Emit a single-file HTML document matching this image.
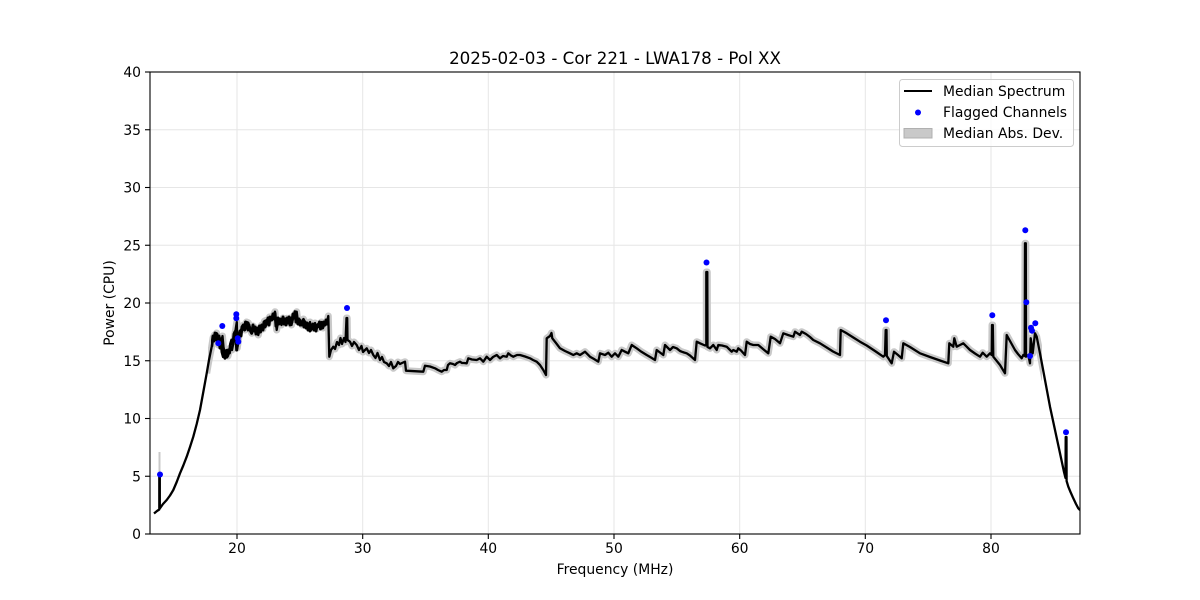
<!DOCTYPE html>
<html><head><meta charset="utf-8"><style>
html,body{margin:0;padding:0;background:#fff;}
svg{display:block;}
text{font-family:"DejaVu Sans","Liberation Sans",sans-serif;fill:#000;}
</style></head><body>
<svg width="1200" height="600" viewBox="0 0 1200 600" xmlns="http://www.w3.org/2000/svg">
<rect width="1200" height="600" fill="#fff"/>
<defs>
<clipPath id="ax"><rect x="150" y="72" width="930" height="462"/></clipPath>
<clipPath id="mid"><rect x="208" y="72" width="834" height="462"/></clipPath>
<clipPath id="noisy"><rect x="211" y="72" width="118" height="462"/></clipPath>
</defs>
<!-- grid -->
<g stroke="#e6e6e6" stroke-width="1">
<line x1="237" y1="72" x2="237" y2="534"/><line x1="362.7" y1="72" x2="362.7" y2="534"/><line x1="488.3" y1="72" x2="488.3" y2="534"/><line x1="614" y1="72" x2="614" y2="534"/><line x1="739.7" y1="72" x2="739.7" y2="534"/><line x1="865.3" y1="72" x2="865.3" y2="534"/><line x1="991" y1="72" x2="991" y2="534"/>
<line x1="150" y1="476.25" x2="1080" y2="476.25"/><line x1="150" y1="418.5" x2="1080" y2="418.5"/><line x1="150" y1="360.75" x2="1080" y2="360.75"/><line x1="150" y1="303" x2="1080" y2="303"/><line x1="150" y1="245.25" x2="1080" y2="245.25"/><line x1="150" y1="187.5" x2="1080" y2="187.5"/><line x1="150" y1="129.75" x2="1080" y2="129.75"/>
</g>
<g clip-path="url(#ax)">
<line x1="159.5" y1="510" x2="159.5" y2="452" stroke="#c8c8c8" stroke-width="2"/>
<g clip-path="url(#mid)">
<polyline fill="none" stroke="#c9c9c9" stroke-width="7" stroke-linejoin="round" points="206.7,373.3 209,360 211.7,346.7 213,338 214.5,335 215.5,340 216.5,333 217.5,342 218.5,345 219.5,337 221,343 222.5,336 223.5,347 225,355 226.5,350 228,356 230,348 232,350 234,340 236,327 236.8,322 237.3,348 238,343 239.5,332 241,330 243.3,325 245,330 246.5,322 248.3,322.7 250,328 251.7,333.3 253,326 255,328 256.5,333 258.3,335 260,328 261.7,325 263,329 264.5,321 266.7,320 268,324 269.5,317 271.7,318.3 273.5,315 275,311.7 276.7,330 278,322 280,321.7 281.5,325 283,318 285,322 286.7,318.3 288.5,323 290,318 291.5,325 293.3,317 295,314 296.7,311.7 298,322 300,320 302,325 303.5,319 305,322 306.7,323.3 308.5,327 310,322 311.5,328 313.3,328.3 315,323 316.5,329 318,324 320,326.7 321.5,322 323,328 325,322 326.7,323.3 328.3,316 329.3,356.7 331,350 333.3,346.7 335,349 337,342 339,345 340.5,338 342,344 344,338 345.5,342 346.5,318 347.2,318 347.5,340 350,341.7 352,346 354,342 356.7,345 359,350 361.5,346 363,352 366.7,348.3 369,353 371,350 373.3,355 375.5,358 377.5,353 380,360 382,357 384,362 386.7,363.3 389,366 391,362 393.3,368.3 396,366 398,362 400,364 402,363 405,361.7 406,370.7 423.3,371.7 425,365.7 430,366.5 435,368.3 438,370 441.7,371.7 444,370 446.7,370 448,365 450,363.3 453,364 455,365 457,363 460,361.7 462,363 464,363 466.7,363.3 468.3,358.3 472,359.5 476.7,360 480,358.3 483.3,361.7 486.7,356.7 490,360 493,357 496.7,355 500,358.3 503,356 506.7,356.7 508.3,353.3 511,355.5 513.3,356.7 517,355 520,355 525,356.5 530,358.3 533,360 536.7,361.7 540,365 543.3,370 546,375 546.7,338.3 550,336 551.5,333 552.3,338.3 556,343 560,348.3 565,351 570,353.3 573.3,355 576.7,353.3 580,355 585,351.7 590,356.7 594,359 598.3,361.7 600,353.3 605,355 608.3,352.7 611.7,356.7 615,353.3 618.3,356.7 621.7,350 625,351.7 628.3,353.3 631.7,345 636.7,348.3 641,351.5 646.7,355 651,357.5 655,360 656.7,350 660,352.5 663.3,355 665,345 667.5,347.5 670,350 673,347 676.7,348.3 680,351 681.7,351.7 684,352.5 686.7,353.3 690,355.5 695,360 696.7,341.7 700,343.3 705,345.5 706.3,345 706.3,272 707.3,272 707.5,347 710,348.3 713.3,345 716.7,350 718.3,345 722,345.5 726.7,346.7 729,349 731.7,351.7 733.3,350 736.7,351.7 738.3,348.3 741,350.5 745,355 746.7,341.7 750,344 753.3,345 758.3,345 763,349 768.3,353.3 770.7,336.7 775,339 780,343.3 783.3,333.3 788,335 793.3,336.7 795,331.7 800,335 801.7,331.7 806,334 810,337 813.3,340 820,343.3 826.7,347.5 833,351.5 840,355 840.7,330 846.7,333.3 853.3,337.5 860,341.7 866.7,345.5 875,351 883.3,356.7 885,355 885.7,330 886.5,330 886.8,356 888.3,358.3 891.7,363.3 894,351.7 898,355 901.7,358.3 903.3,343.3 910,347 920,353.3 930,357 940,360.5 948.3,363.3 949.3,343.3 953.3,346.7 954.3,338.3 956.7,346.7 960,345 963.3,343.3 966.7,346.7 970,350 975,353.5 980,356.7 982.7,352.7 986.7,356.7 990,353.3 991.7,355 992,325 992.8,325 993.3,356.7 1000,365 1005,373.3 1006.7,335 1010,341 1015,350 1018,354 1021.7,358.3 1023.3,355 1024.7,356 1025,243.3 1025.8,243.3 1026,356.7 1028.3,355 1030,363.3 1030.7,338.3 1032.7,353.3 1035,333.3 1036.7,336.7 1040,353.3 1045,380"/>
</g>
<polyline fill="none" stroke="#000" stroke-width="2.3" stroke-linejoin="round" points="154,513.5 157,511 159.3,509.5 159.3,474 159.8,474 159.8,508.5 163,504 166.7,500 170,495.5 173.3,490 176.7,482 180,473.3 183.3,465.5 186.7,456.7 190,447 193.3,436.7 196.7,424 200,410 203.3,392 206.7,373.3 209,360 211.7,346.7 213,338 214.5,335 215.5,340 216.5,333 217.5,342 218.5,345 219.5,337 221,343 222.5,336 223.5,347 225,355 226.5,350 228,356 230,348 232,350 234,340 236,327 236.8,322 237.3,348 238,343 239.5,332 241,330 243.3,325 245,330 246.5,322 248.3,322.7 250,328 251.7,333.3 253,326 255,328 256.5,333 258.3,335 260,328 261.7,325 263,329 264.5,321 266.7,320 268,324 269.5,317 271.7,318.3 273.5,315 275,311.7 276.7,330 278,322 280,321.7 281.5,325 283,318 285,322 286.7,318.3 288.5,323 290,318 291.5,325 293.3,317 295,314 296.7,311.7 298,322 300,320 302,325 303.5,319 305,322 306.7,323.3 308.5,327 310,322 311.5,328 313.3,328.3 315,323 316.5,329 318,324 320,326.7 321.5,322 323,328 325,322 326.7,323.3 328.3,316 329.3,356.7 331,350 333.3,346.7 335,349 337,342 339,345 340.5,338 342,344 344,338 345.5,342 346.5,318 347.2,318 347.5,340 350,341.7 352,346 354,342 356.7,345 359,350 361.5,346 363,352 366.7,348.3 369,353 371,350 373.3,355 375.5,358 377.5,353 380,360 382,357 384,362 386.7,363.3 389,366 391,362 393.3,368.3 396,366 398,362 400,364 402,363 405,361.7 406,370.7 423.3,371.7 425,365.7 430,366.5 435,368.3 438,370 441.7,371.7 444,370 446.7,370 448,365 450,363.3 453,364 455,365 457,363 460,361.7 462,363 464,363 466.7,363.3 468.3,358.3 472,359.5 476.7,360 480,358.3 483.3,361.7 486.7,356.7 490,360 493,357 496.7,355 500,358.3 503,356 506.7,356.7 508.3,353.3 511,355.5 513.3,356.7 517,355 520,355 525,356.5 530,358.3 533,360 536.7,361.7 540,365 543.3,370 546,375 546.7,338.3 550,336 551.5,333 552.3,338.3 556,343 560,348.3 565,351 570,353.3 573.3,355 576.7,353.3 580,355 585,351.7 590,356.7 594,359 598.3,361.7 600,353.3 605,355 608.3,352.7 611.7,356.7 615,353.3 618.3,356.7 621.7,350 625,351.7 628.3,353.3 631.7,345 636.7,348.3 641,351.5 646.7,355 651,357.5 655,360 656.7,350 660,352.5 663.3,355 665,345 667.5,347.5 670,350 673,347 676.7,348.3 680,351 681.7,351.7 684,352.5 686.7,353.3 690,355.5 695,360 696.7,341.7 700,343.3 705,345.5 706.3,345 706.3,272 707.3,272 707.5,347 710,348.3 713.3,345 716.7,350 718.3,345 722,345.5 726.7,346.7 729,349 731.7,351.7 733.3,350 736.7,351.7 738.3,348.3 741,350.5 745,355 746.7,341.7 750,344 753.3,345 758.3,345 763,349 768.3,353.3 770.7,336.7 775,339 780,343.3 783.3,333.3 788,335 793.3,336.7 795,331.7 800,335 801.7,331.7 806,334 810,337 813.3,340 820,343.3 826.7,347.5 833,351.5 840,355 840.7,330 846.7,333.3 853.3,337.5 860,341.7 866.7,345.5 875,351 883.3,356.7 885,355 885.7,330 886.5,330 886.8,356 888.3,358.3 891.7,363.3 894,351.7 898,355 901.7,358.3 903.3,343.3 910,347 920,353.3 930,357 940,360.5 948.3,363.3 949.3,343.3 953.3,346.7 954.3,338.3 956.7,346.7 960,345 963.3,343.3 966.7,346.7 970,350 975,353.5 980,356.7 982.7,352.7 986.7,356.7 990,353.3 991.7,355 992,325 992.8,325 993.3,356.7 1000,365 1005,373.3 1006.7,335 1010,341 1015,350 1018,354 1021.7,358.3 1023.3,355 1024.7,356 1025,243.3 1025.8,243.3 1026,356.7 1028.3,355 1030,363.3 1030.7,338.3 1032.7,353.3 1035,333.3 1036.7,336.7 1040,353.3 1045,380 1050,406.7 1055,430 1060,453.3 1064,472 1065.5,478 1065.7,437 1066.5,437 1066.6,481 1068.3,486.7 1070.5,492 1073.3,498.3 1076,504 1078.3,508.3 1080,510"/>
<!-- noisy thick overlay 20-27 MHz -->
<polyline clip-path="url(#noisy)" fill="none" stroke="#000" stroke-width="3" stroke-linejoin="round" points="211.7,346.7 213,336 214,341 215,333 216,339 217,334 218,344 219,336 220,348 221,340 222,352 223.3,356.7 224,350 225,358.3 226,352 227,357 228.3,350 229.5,353 230.5,344 231.7,340 233,344 234,334 235,331.7 236,337 236.7,350 237.5,344 238.5,336 240,331 241,336 242,327 243.3,325 244.5,330 245.5,322 246.7,323.3 248,330 249,325 250,330 251.7,333.3 253,325 254,331 255,327 256,334 257,328 258.3,331.7 259.5,326 260.5,332 261.7,325 263,330 264,322 265,327 266.7,323.3 268,318 269,325 270,317 271.7,320 273,314 274,319 275,313.3 276,326 276.7,323.3 278,318 279,324 280,319 281.7,321.7 283,317 284,324 285,319 286,325 287,318 288,323 289,317 290,325 291,318 292,322 293,314 294,318 295,311.7 296,322 296.7,320 298,324 299,319 300,325 301.7,325 303,320 304,327 305,322 306,328 307,323 308,330 309,324 310,331 311.7,328.3 313,324 314,330 315,325 316,331 317,325 318.3,326.7 319.5,322 320.5,329 321.5,324 322.5,328 323.5,322 325,325 326,320 327,324 328.3,321.7"/>
<!-- flagged -->
<g fill="#0000ff">
<circle cx="160" cy="474.5" r="3"/>
<circle cx="218.3" cy="343.3" r="3"/>
<circle cx="222.3" cy="326" r="3"/>
<circle cx="236.3" cy="314.3" r="3"/>
<circle cx="236.3" cy="318.3" r="3"/>
<circle cx="237.7" cy="338.3" r="3"/>
<circle cx="238.3" cy="341.7" r="3"/>
<circle cx="347" cy="308" r="3"/>
<circle cx="706.5" cy="262.5" r="3"/>
<circle cx="886" cy="320.3" r="3"/>
<circle cx="992.3" cy="315.3" r="3"/>
<circle cx="1025.3" cy="230.3" r="3"/>
<circle cx="1026.3" cy="302.3" r="3"/>
<circle cx="1030" cy="356" r="3"/>
<circle cx="1031" cy="327.7" r="3"/>
<circle cx="1032" cy="330.7" r="3"/>
<circle cx="1035.3" cy="323.3" r="3"/>
<circle cx="1066" cy="432.3" r="3"/>
</g>
</g>
<!-- axes frame -->
<rect x="150" y="72" width="930" height="462" fill="none" stroke="#000" stroke-width="1.1"/>
<!-- ticks -->
<g stroke="#000" stroke-width="1.1">
<line x1="237" y1="534" x2="237" y2="539"/><line x1="362.7" y1="534" x2="362.7" y2="539"/><line x1="488.3" y1="534" x2="488.3" y2="539"/><line x1="614" y1="534" x2="614" y2="539"/><line x1="739.7" y1="534" x2="739.7" y2="539"/><line x1="865.3" y1="534" x2="865.3" y2="539"/><line x1="991" y1="534" x2="991" y2="539"/>
<line x1="145" y1="534" x2="150" y2="534"/><line x1="145" y1="476.25" x2="150" y2="476.25"/><line x1="145" y1="418.5" x2="150" y2="418.5"/><line x1="145" y1="360.75" x2="150" y2="360.75"/><line x1="145" y1="303" x2="150" y2="303"/><line x1="145" y1="245.25" x2="150" y2="245.25"/><line x1="145" y1="187.5" x2="150" y2="187.5"/><line x1="145" y1="129.75" x2="150" y2="129.75"/><line x1="145" y1="72" x2="150" y2="72"/>
</g>
<g font-size="13.9" text-anchor="middle">
<text x="237" y="553">20</text><text x="362.7" y="553">30</text><text x="488.3" y="553">40</text><text x="614" y="553">50</text><text x="739.7" y="553">60</text><text x="865.3" y="553">70</text><text x="991" y="553">80</text>
</g>
<g font-size="13.9" text-anchor="end">
<text x="141" y="539">0</text><text x="141" y="481.25">5</text><text x="141" y="423.5">10</text><text x="141" y="365.75">15</text><text x="141" y="308">20</text><text x="141" y="250.25">25</text><text x="141" y="192.5">30</text><text x="141" y="134.75">35</text><text x="141" y="77">40</text>
</g>
<text x="615" y="574" font-size="13.9" text-anchor="middle">Frequency (MHz)</text>
<text x="0" y="0" font-size="13.9" text-anchor="middle" transform="translate(114,303) rotate(-90)">Power (CPU)</text>
<text x="615" y="64" font-size="16.7" text-anchor="middle">2025-02-03 - Cor 221 - LWA178 - Pol XX</text>
<!-- legend -->
<rect x="899.5" y="79.5" width="174" height="67" rx="3" fill="#fff" fill-opacity="0.8" stroke="#cccccc" stroke-width="1"/>
<line x1="904" y1="91" x2="932" y2="91" stroke="#000" stroke-width="2.1"/>
<circle cx="918" cy="112.5" r="3" fill="#0000ff"/>
<rect x="904" y="128.5" width="28" height="9.5" fill="#c9c9c9" stroke="#b0b0b0" stroke-width="1"/>
<g font-size="13.9">
<text x="943" y="96">Median Spectrum</text>
<text x="943" y="117">Flagged Channels</text>
<text x="943" y="138">Median Abs. Dev.</text>
</g>
</svg>
</body></html>
